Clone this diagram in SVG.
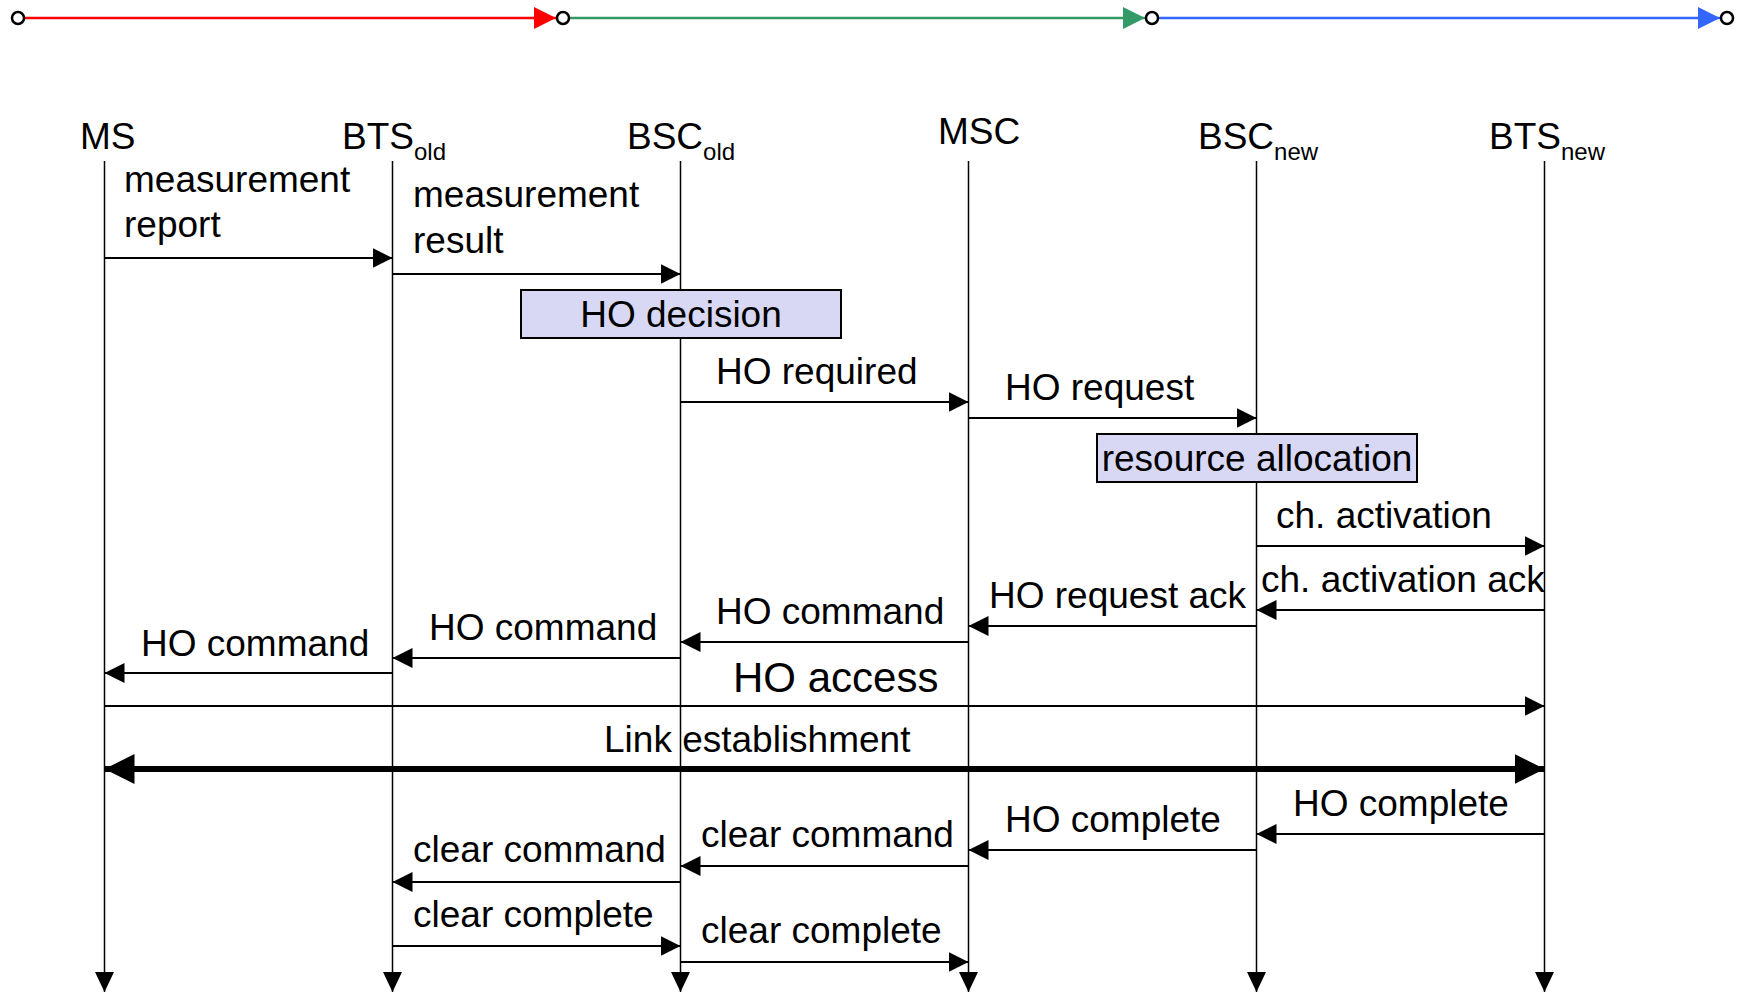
<svg xmlns="http://www.w3.org/2000/svg" width="1745" height="995" viewBox="0 0 1745 995">
<defs>
<style>
text{font-family:"Liberation Sans",Arial,sans-serif;fill:#000}
.lbl{font-size:37px}
.hdr{font-size:37px}
.sub{font-size:24px}
.big{font-size:42px}
.life{stroke:#000;stroke-width:1.5;fill:none}
.msg{stroke:#000;stroke-width:2;fill:none;marker-end:url(#ah)}
.box{fill:#d8d8f4;stroke:#000;stroke-width:2}
.dot{fill:#fff;stroke:#000;stroke-width:2.5}
</style>
<marker id="ah" markerUnits="userSpaceOnUse" markerWidth="20" markerHeight="20" refX="20" refY="10" orient="auto"><path d="M0,0 L20,10 L0,20 z" fill="#000"/></marker>
<marker id="lh" markerUnits="userSpaceOnUse" markerWidth="20" markerHeight="19" refX="20" refY="9.5" orient="auto"><path d="M0,0 L20,9.5 L0,19 z" fill="#000"/></marker>
<marker id="th" markerUnits="userSpaceOnUse" markerWidth="30" markerHeight="30" refX="30" refY="15" orient="auto-start-reverse"><path d="M0,0 L30,15 L0,30 z" fill="#000"/></marker>
<marker id="red" markerUnits="userSpaceOnUse" markerWidth="22" markerHeight="22" refX="22" refY="11" orient="auto"><path d="M0,0 L22,11 L0,22 z" fill="#ff0000"/></marker>
<marker id="grn" markerUnits="userSpaceOnUse" markerWidth="22" markerHeight="22" refX="22" refY="11" orient="auto"><path d="M0,0 L22,11 L0,22 z" fill="#339966"/></marker>
<marker id="blu" markerUnits="userSpaceOnUse" markerWidth="22" markerHeight="22" refX="22" refY="11" orient="auto"><path d="M0,0 L22,11 L0,22 z" fill="#3366ff"/></marker>
</defs>
<rect width="1745" height="995" fill="#fff"/>

<g id="timeline">
<line x1="18" y1="18" x2="556" y2="18" stroke="#ff0000" stroke-width="2.5" marker-end="url(#red)"/>
<line x1="563" y1="18" x2="1145" y2="18" stroke="#339966" stroke-width="2.5" marker-end="url(#grn)"/>
<line x1="1152" y1="18" x2="1720" y2="18" stroke="#3366ff" stroke-width="2.5" marker-end="url(#blu)"/>
<circle class="dot" cx="18" cy="18" r="6"/>
<circle class="dot" cx="563" cy="18" r="6"/>
<circle class="dot" cx="1152" cy="18" r="6"/>
<circle class="dot" cx="1727" cy="18" r="6"/>
</g>

<g id="node-ms"><text class="hdr" x="80" y="149">MS</text><line class="life" x1="104.5" y1="161" x2="104.5" y2="992" marker-end="url(#lh)"/></g>
<g id="node-btsold"><text class="hdr" x="342" y="149">BTS<tspan class="sub" dy="11">old</tspan></text><line class="life" x1="392.5" y1="161" x2="392.5" y2="992" marker-end="url(#lh)"/></g>
<g id="node-bscold"><text class="hdr" x="627" y="149">BSC<tspan class="sub" dy="11">old</tspan></text><line class="life" x1="680.5" y1="161" x2="680.5" y2="992" marker-end="url(#lh)"/></g>
<g id="node-msc"><text class="hdr" x="938" y="144">MSC</text><line class="life" x1="968.5" y1="161" x2="968.5" y2="992" marker-end="url(#lh)"/></g>
<g id="node-bscnew"><text class="hdr" x="1198" y="149">BSC<tspan class="sub" dy="11">new</tspan></text><line class="life" x1="1256.5" y1="161" x2="1256.5" y2="992" marker-end="url(#lh)"/></g>
<g id="node-btsnew"><text class="hdr" x="1489" y="149">BTS<tspan class="sub" dy="11">new</tspan></text><line class="life" x1="1544.5" y1="161" x2="1544.5" y2="992" marker-end="url(#lh)"/></g>

<g id="ho-decision"><rect class="box" x="521" y="290" width="320" height="48"/><text class="lbl" x="681" y="327" text-anchor="middle">HO decision</text></g>
<g id="resource-allocation"><rect class="box" x="1097" y="434" width="320" height="48"/><text class="lbl" x="1257" y="471" text-anchor="middle">resource allocation</text></g>

<g id="connectors">
<line class="msg" x1="104.5" y1="258" x2="392.5" y2="258"/>
<line class="msg" x1="392.5" y1="274" x2="680.5" y2="274"/>
<line class="msg" x1="680.5" y1="402" x2="968.5" y2="402"/>
<line class="msg" x1="968.5" y1="418" x2="1256.5" y2="418"/>
<line class="msg" x1="1256.5" y1="546" x2="1544.5" y2="546"/>
<line class="msg" x1="1544.5" y1="610" x2="1256.5" y2="610"/>
<line class="msg" x1="1256.5" y1="626" x2="968.5" y2="626"/>
<line class="msg" x1="968.5" y1="642" x2="680.5" y2="642"/>
<line class="msg" x1="680.5" y1="658" x2="392.5" y2="658"/>
<line class="msg" x1="392.5" y1="673" x2="104.5" y2="673"/>
<line class="msg" x1="104.5" y1="706" x2="1544.5" y2="706"/>
<line x1="104.5" y1="769" x2="1544.5" y2="769" stroke="#000" stroke-width="6" marker-start="url(#th)" marker-end="url(#th)"/>
<line class="msg" x1="1544.5" y1="834" x2="1256.5" y2="834"/>
<line class="msg" x1="1256.5" y1="850" x2="968.5" y2="850"/>
<line class="msg" x1="968.5" y1="866" x2="680.5" y2="866"/>
<line class="msg" x1="680.5" y1="882" x2="392.5" y2="882"/>
<line class="msg" x1="392.5" y1="946" x2="680.5" y2="946"/>
<line class="msg" x1="680.5" y1="962" x2="968.5" y2="962"/>

<text class="lbl" x="124" y="192">measurement</text>
<text class="lbl" x="124" y="237">report</text>
<text class="lbl" x="413" y="207">measurement</text>
<text class="lbl" x="413" y="253">result</text>
<text class="lbl" x="716" y="384">HO required</text>
<text class="lbl" x="1005" y="400">HO request</text>
<text class="lbl" x="1276" y="528">ch. activation</text>
<text class="lbl" x="1261" y="592">ch. activation ack</text>
<text class="lbl" x="989" y="608">HO request ack</text>
<text class="lbl" x="716" y="624">HO command</text>
<text class="lbl" x="429" y="640">HO command</text>
<text class="lbl" x="141" y="656">HO command</text>
<text class="big" x="733" y="692">HO access</text>
<text class="lbl" x="604" y="752">Link establishment</text>
<text class="lbl" x="1293" y="816">HO complete</text>
<text class="lbl" x="1005" y="832">HO complete</text>
<text class="lbl" x="701" y="847">clear command</text>
<text class="lbl" x="413" y="862">clear command</text>
<text class="lbl" x="413" y="927">clear complete</text>
<text class="lbl" x="701" y="943">clear complete</text>
</g>
</svg>
